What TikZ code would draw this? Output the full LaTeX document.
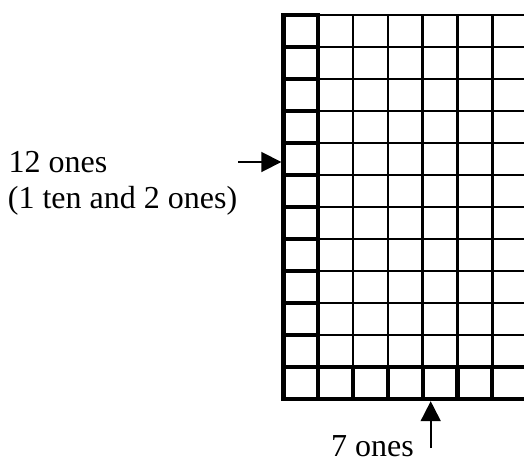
\documentclass[tikz,border=0pt]{standalone}
\usepackage{fontspec}
\setmainfont{Liberation Serif}
\usetikzlibrary{arrows.meta}
\begin{document}
\begin{tikzpicture}[x=1pt, y=-1pt,
    thinline/.style={line width=2.5pt, line cap=rect},
    boldline/.style={line width=4.3pt, line cap=rect},
    pointer/.style={line width=1.8pt, -{Triangle[length=20pt, width=20pt]}},
    lbltext/.style={anchor=base west, inner sep=0pt, font=\fontsize{32}{38}\selectfont}]
    \useasboundingbox (0,0) rectangle (524,463);
    % the grid of 12 rows by 7 columns
    \begin{scope}[shift={(283.5,15)}, x=34.8pt, y=-32pt]
        \foreach \c in {0,...,7} \draw[thinline] (\c,0) -- (\c,12);
        \foreach \r in {0,...,12} \draw[thinline] (0,\r) -- (7,\r);
        % left column and bottom row in bold
        \draw[boldline] (0,0) -- (0,12);
        \draw[boldline] (1,0) -- (1,12);
        \foreach \r in {0,...,12} \draw[boldline] (0,\r) -- (1,\r);
        \draw[boldline] (0,11) -- (7,11);
        \draw[boldline] (0,12) -- (7,12);
        \foreach \c in {0,...,7} \draw[boldline] (\c,11) -- (\c,12);
    \end{scope}
    \node[lbltext] (twelve) at (8.5,172) {12 ones};
    \node[lbltext] (split)  at (7.7,208) {(1 ten and 2 ones)};
    \node[lbltext] (seven)  at (331,456) {7 ones};
    \coordinate (ltail) at (238,162);
    \coordinate (ltip)  at (281.3,162);
    \draw[pointer] (ltail) -- (ltip);
    \coordinate (btail) at (430.7,448);
    \coordinate (btip)  at (430.7,401.2);
    \draw[pointer] (btail) -- (btip);
\end{tikzpicture}
\end{document}
